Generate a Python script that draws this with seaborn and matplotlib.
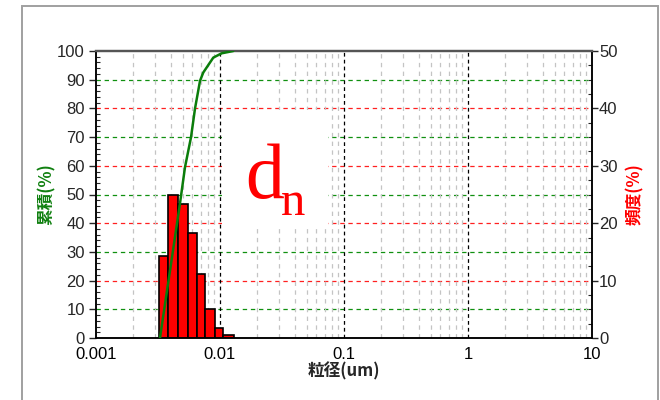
import numpy as np
import matplotlib
matplotlib.use("Agg")
import matplotlib.pyplot as plt
import seaborn as sns
import pandas as pd
from matplotlib.patches import Rectangle
from matplotlib.ticker import FixedLocator, FixedFormatter, MultipleLocator, LogLocator, NullFormatter
from matplotlib.transforms import blended_transform_factory

# ---- data ----
bin_edges = [0.00322, 0.00381, 0.00459, 0.00552, 0.00653, 0.00757, 0.00912, 0.01057, 0.01297]
freq_pct = [14.2, 25.0, 23.4, 18.3, 11.2, 5.0, 1.8, 0.5]
cum_size = [0.00328, 0.00400, 0.00476, 0.00522, 0.00584, 0.00629, 0.00690, 0.00733, 0.00883, 0.01032, 0.01280]
cum_pct = [0.0, 25.0, 47.0, 59.5, 70.0, 80.0, 89.6, 92.5, 97.7, 99.2, 100.0]
x_ticks = [0.001, 0.01, 0.1, 1, 10]
x_tick_labels = ["0.001", "0.01", "0.1", "1", "10"]
left_ticks = list(range(0, 101, 10))
right_ticks = list(range(0, 51, 10))
green_grid = [10, 30, 50, 70, 90]
red_grid = [20, 40, 60, 80]
label_x = "粒径(um)"
label_left = "累積(%)"
label_right = "頻度(%)"

sns.set_style("white")
cjk = ["Noto Sans CJK JP", "DejaVu Sans"]
num_font = ["Liberation Sans Narrow", "Liberation Sans", "DejaVu Sans"]
plt.rcParams["font.family"] = num_font

fig = plt.figure(figsize=(6.6, 4.0), dpi=100)
ax = fig.add_axes([96/660, 1-338/400, (592-96)/660, (338-51)/400])
ax2 = ax.twinx()

# left axis above right axis so the cumulative line is drawn over the bars
ax.set_zorder(ax2.get_zorder() + 1)
ax.patch.set_visible(False)
ax2.patch.set_visible(True)
ax2.patch.set_facecolor("white")

for a in (ax, ax2):
    a.set_xscale("log")
    a.set_xlim(0.001, 10)
ax.set_ylim(0, 100)
ax2.set_ylim(0, 50)

# ---- grid (drawn on ax2, underneath the bars) ----
ytr = blended_transform_factory(ax2.transAxes, ax.transData)
for v in green_grid:
    ax2.plot([0, 1], [v, v], transform=ytr, color="#109010", lw=0.9,
             ls=(0, (3.5, 3)), zorder=1)
for v in red_grid:
    ax2.plot([0, 1], [v, v], transform=ytr, color="#ff2020", lw=0.9,
             ls=(0, (3.5, 3)), zorder=1)
minor_pos = [m * 10.0 ** e for e in range(-3, 1) for m in range(2, 10)]
for v in minor_pos:
    ax2.axvline(v, color="#c4c4c4", lw=0.9, ls=(0, (3.5, 3.5)), zorder=1)
for v in x_ticks[1:-1]:
    ax2.axvline(v, color="black", lw=0.9, ls=(0, (3, 2.5)), zorder=1.1)

# white box behind the label
ax2.add_patch(Rectangle((0.01038, 38.5), 0.0743 - 0.01038, 79.5 - 38.5,
                        transform=ax.transData, facecolor="white",
                        edgecolor="none", zorder=2))

# ---- bars (frequency) ----
lefts = np.array(bin_edges[:-1])
widths = np.diff(bin_edges)
ax2.bar(lefts, freq_pct, width=widths, align="edge", color="#ff0000",
        edgecolor="black", linewidth=1.2, zorder=3)

# ---- cumulative line ----
df = pd.DataFrame({"size": cum_size, "cum": cum_pct})
sns.lineplot(data=df, x="size", y="cum", ax=ax, color="#0b7d0b", lw=1.8,
             sort=False, estimator=None, zorder=5)
ax.set_xlim(0.001, 10)
ax.set_ylim(0, 100)

# ---- ticks ----
ax.xaxis.set_major_locator(FixedLocator(x_ticks))
ax.xaxis.set_major_formatter(FixedFormatter(x_tick_labels))
ax.xaxis.set_minor_locator(LogLocator(base=10, subs=np.arange(2, 10)))
ax.xaxis.set_minor_formatter(NullFormatter())
ax2.xaxis.set_major_locator(FixedLocator(x_ticks))
ax.yaxis.set_major_locator(FixedLocator(left_ticks))
ax.yaxis.set_minor_locator(MultipleLocator(2))
ax2.yaxis.set_major_locator(FixedLocator(right_ticks))
ax2.yaxis.set_minor_locator(MultipleLocator(2.5))

ax.tick_params(axis="x", which="major", direction="inout", length=9, width=1,
               pad=2, labelsize=12, colors="black")
ax.tick_params(axis="x", which="minor", direction="inout", length=6, width=0.8)
ax.tick_params(axis="y", which="major", direction="out", length=5, width=1,
               pad=3, labelsize=12)
ax.tick_params(axis="y", which="minor", direction="in", length=3, width=0.8)
ax2.tick_params(axis="y", which="major", direction="out", length=4, width=1,
                pad=1, labelsize=12)
ax2.tick_params(axis="y", which="minor", direction="in", length=3, width=0.8)

# ---- spines ----
for a in (ax, ax2):
    for s in ("left", "right", "bottom"):
        a.spines[s].set_color("black")
        a.spines[s].set_linewidth(1.1)
    a.spines["top"].set_color("#555555")
    a.spines["top"].set_linewidth(1.6)

# ---- labels ----
ax.set_xlabel(label_x, family=cjk, fontweight="bold", fontsize=12, labelpad=0)
ax.set_ylabel(label_left, family=cjk, fontweight="bold", fontsize=12,
              color="#108010", labelpad=1)
ax2.set_ylabel(label_right, family=cjk, fontweight="bold", fontsize=12,
               color="#ff0000", labelpad=6, rotation=90)

# d_n label
fig.text(245/660, 1-198/400, "d", family=["Liberation Serif", "DejaVu Serif"],
         fontsize=56, color="#ff0000", va="baseline", ha="left")
fig.text(281/660, 1-215/400, "n", family=["Liberation Serif", "DejaVu Serif"],
         fontsize=35, color="#ff0000", va="baseline", ha="left")

# outer frame
fig.add_artist(Rectangle((22/660, -0.05), (658-22)/660, 0.985 + 0.05,
                         transform=fig.transFigure, fill=False,
                         edgecolor="#a0a0a0", linewidth=1.4))

fig.savefig("out.png", dpi=100)
